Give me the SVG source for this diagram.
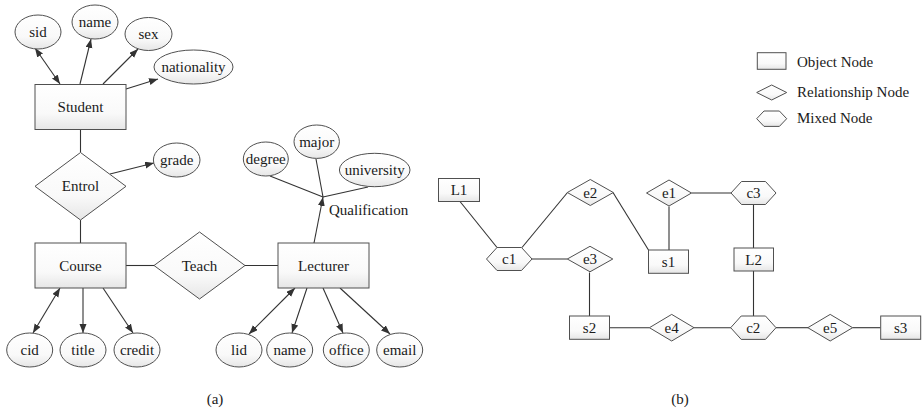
<svg xmlns="http://www.w3.org/2000/svg" xmlns:xlink="http://www.w3.org/1999/xlink" width="922" height="412" viewBox="0 0 922 412">
  <style>
    text { font-family: "Liberation Serif", "Times New Roman", serif; font-size: 15px; fill: #1a1a1a; }
    .c { text-anchor: middle; }
    .shape { fill: url(#shade); stroke: #505050; stroke-width: 1; }
    .edge { fill: none; stroke: #333; stroke-width: 1.1; }
    .arr { marker-end: url(#head); }
    .both { marker-start: url(#head); marker-end: url(#head); }
  </style>
  <defs>
    <linearGradient id="shade" x1="0" y1="0" x2="0" y2="1">
      <stop offset="0" stop-color="#ffffff"/>
      <stop offset="0.65" stop-color="#f9f9f9"/>
      <stop offset="1" stop-color="#e6e6e6"/>
    </linearGradient>
    <marker id="head" markerUnits="userSpaceOnUse" markerWidth="10" markerHeight="8" refX="9" refY="3.5" orient="auto-start-reverse">
      <path d="M0,0 L9,3.5 L0,7 z" fill="#333"/>
    </marker>
  </defs>

  <!-- connectors -->
  <g id="connectors">
    <!-- (a) structural links -->
    <line class="edge" x1="80.5" y1="129.5" x2="80.5" y2="152.5"/>
    <line class="edge" x1="80.5" y1="220" x2="80.5" y2="243"/>
    <line class="edge" x1="126" y1="265.5" x2="154" y2="265.5"/>
    <line class="edge" x1="245" y1="265.5" x2="278" y2="265.5"/>
    <!-- (a) attribute arrows -->
    <line class="edge both" x1="60" y1="84" x2="35" y2="48"/>
    <line class="edge arr" x1="80" y1="84" x2="91" y2="39"/>
    <line class="edge arr" x1="103" y1="84" x2="138" y2="49"/>
    <line class="edge arr" x1="126" y1="89" x2="158" y2="79"/>
    <line class="edge arr" x1="110" y1="174" x2="154" y2="163"/>
    <line class="edge both" x1="60" y1="288" x2="33" y2="333"/>
    <line class="edge arr" x1="83" y1="288" x2="83" y2="333"/>
    <line class="edge arr" x1="103" y1="288" x2="133" y2="333"/>
    <line class="edge both" x1="295" y1="288" x2="249" y2="334"/>
    <line class="edge arr" x1="307" y1="288" x2="292" y2="333"/>
    <line class="edge arr" x1="323" y1="288" x2="343" y2="333"/>
    <line class="edge arr" x1="340" y1="288" x2="390" y2="334"/>
    <!-- (a) composite attribute -->
    <line class="edge" x1="270" y1="176" x2="323" y2="197"/>
    <line class="edge" x1="316" y1="159" x2="323" y2="197"/>
    <line class="edge" x1="368" y1="187" x2="323" y2="197"/>
    <line class="edge arr" x1="314" y1="243" x2="323" y2="197" stroke-width="1.6"/>

    <!-- (b) graph edges -->
    <line class="edge" x1="460" y1="201.5" x2="497" y2="247.5"/>
    <line class="edge" x1="522" y1="247.5" x2="567.5" y2="192.5"/>
    <line class="edge" x1="531.5" y1="259" x2="567.5" y2="259"/>
    <line class="edge" x1="613" y1="192.5" x2="648.5" y2="250"/>
    <line class="edge" x1="669" y1="206.5" x2="669" y2="250"/>
    <line class="edge" x1="691.5" y1="193" x2="731" y2="193"/>
    <line class="edge" x1="753.5" y1="204.5" x2="753.5" y2="248"/>
    <line class="edge" x1="753.5" y1="271" x2="753.5" y2="316"/>
    <line class="edge" x1="589.5" y1="272.5" x2="589.5" y2="316"/>
    <line class="edge" x1="609.5" y1="327.7" x2="649.5" y2="327.7"/>
    <line class="edge" x1="694" y1="327.7" x2="731" y2="327.7"/>
    <line class="edge" x1="776" y1="327.7" x2="808" y2="327.7"/>
    <line class="edge" x1="852.5" y1="327.7" x2="880.5" y2="327.7"/>
  </g>

  <!-- (a) entities and relationships -->
  <g id="student">
    <rect class="shape" x="35" y="84.5" width="91" height="45"/>
    <text class="c" x="80.5" y="112">Student</text>
  </g>
  <g id="entrol">
    <polygon class="shape" points="80.5,152.5 126,186.3 80.5,220 35,186.3"/>
    <text class="c" x="80.5" y="191">Entrol</text>
  </g>
  <g id="course">
    <rect class="shape" x="35" y="243" width="91" height="45"/>
    <text class="c" x="80.5" y="270.5">Course</text>
  </g>
  <g id="teach">
    <polygon class="shape" points="199.5,232 245,265.5 199.5,299 154,265.5"/>
    <text class="c" x="199.5" y="270.5">Teach</text>
  </g>
  <g id="lecturer">
    <rect class="shape" x="278" y="243" width="91" height="45"/>
    <text class="c" x="323.5" y="270.5">Lecturer</text>
  </g>

  <!-- (a) attributes -->
  <g id="attr-sid"><ellipse class="shape" cx="38" cy="32" rx="23" ry="17"/><text class="c" x="38" y="37">sid</text></g>
  <g id="attr-sname"><ellipse class="shape" cx="95" cy="22" rx="23" ry="17"/><text class="c" x="95" y="27">name</text></g>
  <g id="attr-sex"><ellipse class="shape" cx="148.5" cy="34" rx="23.5" ry="16.5"/><text class="c" x="148.5" y="39">sex</text></g>
  <g id="attr-nationality"><ellipse class="shape" cx="193.5" cy="67" rx="39.5" ry="17"/><text class="c" x="193.5" y="72">nationality</text></g>
  <g id="attr-grade"><ellipse class="shape" cx="176.7" cy="160" rx="23.3" ry="17"/><text class="c" x="176.7" y="165">grade</text></g>
  <g id="attr-degree"><ellipse class="shape" cx="265.8" cy="159" rx="22.5" ry="17"/><text class="c" x="265.8" y="164">degree</text></g>
  <g id="attr-major"><ellipse class="shape" cx="316.7" cy="141.7" rx="22.7" ry="16.7"/><text class="c" x="316.7" y="146.7">major</text></g>
  <g id="attr-university"><ellipse class="shape" cx="374.7" cy="170" rx="35.3" ry="16.7"/><text class="c" x="374.7" y="175">university</text></g>
  <g id="attr-qualification"><text x="329" y="215">Qualification</text></g>
  <g id="attr-cid"><ellipse class="shape" cx="29.7" cy="350" rx="23" ry="17"/><text class="c" x="29.7" y="355">cid</text></g>
  <g id="attr-title"><ellipse class="shape" cx="83" cy="350" rx="23" ry="17"/><text class="c" x="83" y="355">title</text></g>
  <g id="attr-credit"><ellipse class="shape" cx="137" cy="350" rx="23" ry="17"/><text class="c" x="137" y="355">credit</text></g>
  <g id="attr-lid"><ellipse class="shape" cx="239" cy="350" rx="23" ry="17"/><text class="c" x="239" y="355">lid</text></g>
  <g id="attr-lname"><ellipse class="shape" cx="289.7" cy="350" rx="23" ry="17"/><text class="c" x="289.7" y="355">name</text></g>
  <g id="attr-office"><ellipse class="shape" cx="346.3" cy="350" rx="23" ry="17"/><text class="c" x="346.3" y="355">office</text></g>
  <g id="attr-email"><ellipse class="shape" cx="399.7" cy="350" rx="23" ry="17"/><text class="c" x="399.7" y="355">email</text></g>

  <!-- (b) graph nodes -->
  <g id="L1"><rect class="shape" x="438.5" y="178.5" width="41" height="23"/><text class="c" x="459" y="195">L1</text></g>
  <g id="c1"><polygon class="shape" points="486.5,259 497,247.5 521.5,247.5 532,259 521.5,270.5 497,270.5"/><text class="c" x="509.2" y="264">c1</text></g>
  <g id="e2"><polygon class="shape" points="590.3,179.5 613.3,192.5 590.3,205.5 567.3,192.5"/><text class="c" x="590.3" y="197.5">e2</text></g>
  <g id="e3"><polygon class="shape" points="590,246.3 612.8,259 590,271.8 567.3,259"/><text class="c" x="590" y="264">e3</text></g>
  <g id="s1"><rect class="shape" x="648.5" y="250" width="40" height="23.3"/><text class="c" x="668.5" y="266.5">s1</text></g>
  <g id="e1"><polygon class="shape" points="669,180 691.5,193 669,206 646.5,193"/><text class="c" x="669" y="198">e1</text></g>
  <g id="c3"><polygon class="shape" points="731,193 741.5,181.5 765.5,181.5 776,193 765.5,204.5 741.5,204.5"/><text class="c" x="753.5" y="198">c3</text></g>
  <g id="L2"><rect class="shape" x="734" y="248" width="39.5" height="23"/><text class="c" x="753.7" y="264.5">L2</text></g>
  <g id="s2"><rect class="shape" x="569.5" y="316" width="40" height="23.3"/><text class="c" x="589.5" y="332.7">s2</text></g>
  <g id="e4"><polygon class="shape" points="671.7,314.4 694,327.7 671.7,341 649.4,327.7"/><text class="c" x="671.7" y="332.7">e4</text></g>
  <g id="c2"><polygon class="shape" points="730.7,327.7 741.2,316 765.5,316 776,327.7 765.5,339.4 741.2,339.4"/><text class="c" x="753.3" y="332.7">c2</text></g>
  <g id="e5"><polygon class="shape" points="830.2,314.4 852.6,327.7 830.2,341 807.8,327.7"/><text class="c" x="830.2" y="332.7">e5</text></g>
  <g id="s3"><rect class="shape" x="880.7" y="316" width="40" height="23.3"/><text class="c" x="900.7" y="332.7">s3</text></g>

  <!-- legend -->
  <g id="legend">
    <rect class="shape" x="757.3" y="52.7" width="28.7" height="16.6"/>
    <text x="797" y="66.5">Object Node</text>
    <polygon class="shape" points="771.7,85 786.7,92.5 771.7,100 756.7,92.5"/>
    <text x="797" y="96.5">Relationship Node</text>
    <polygon class="shape" points="756.7,118.7 764,111 779.4,111 786.7,118.7 779.4,126.4 764,126.4"/>
    <text x="797" y="123.3">Mixed Node</text>
  </g>

  <!-- captions -->
  <text class="c" x="215" y="404">(a)</text>
  <text class="c" x="680" y="404">(b)</text>
</svg>
